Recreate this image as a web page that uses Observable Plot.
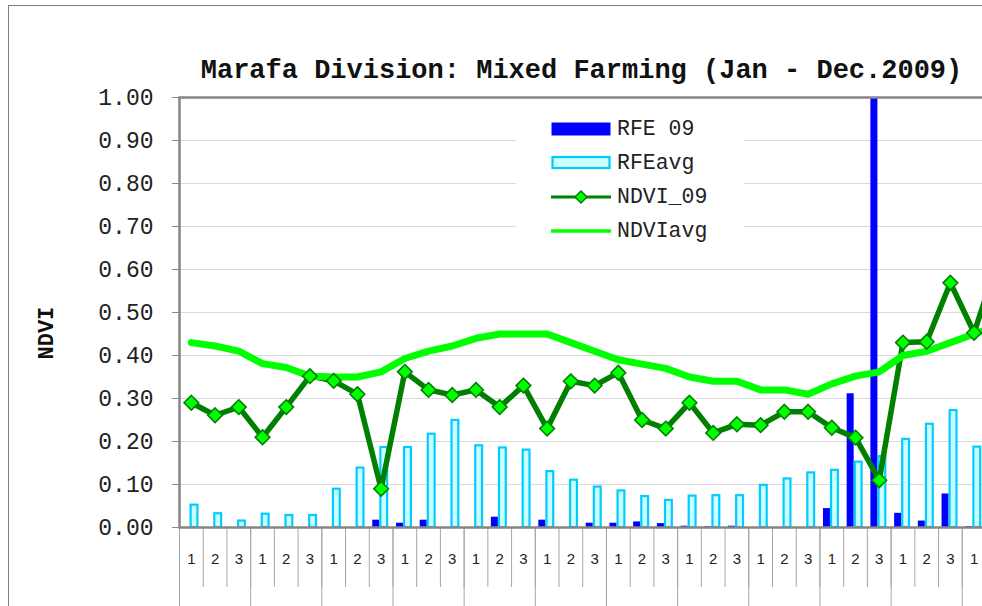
<!DOCTYPE html>
<html>
<head>
<meta charset="utf-8">
<script src="https://cdn.jsdelivr.net/npm/d3@7"></script>
<script src="https://cdn.jsdelivr.net/npm/@observablehq/plot@0.6"></script>
<style>
  html, body { margin: 0; padding: 0; background: #fff; width: 982px; height: 606px; overflow: hidden; }
  #wrap { position: relative; width: 982px; height: 606px; overflow: hidden; }
  #outer { position: absolute; left: 8px; top: 5px; width: 1200px; height: 800px; border: 1.5px solid #808080; }
  #chart { position: absolute; left: 0; top: 0; }
  #title { position: absolute; left: 0; width: 1163px; top: 58px; text-align: center;
           font: bold 27px "Liberation Mono", "DejaVu Sans Mono", monospace; line-height: 27px; color: #111; white-space: nowrap; }
  #legend { position: absolute; left: 516px; top: 106px; width: 228px; height: 150px; background: #fff; }
  .item { position: absolute; left: 35px; height: 24px; display: flex; align-items: center;
          font: 21.5px "Liberation Mono", "DejaVu Sans Mono", monospace; color: #222; white-space: nowrap; }
  .item svg { margin-right: 6px; }
</style>
</head>
<body>
<div id="wrap">
  <div id="outer"></div>
  <div id="chart"></div>
  <div id="title"></div>
  <div id="legend"></div>
</div>
<script>
// ---- data (36 dekads, Jan - Dec 2009; the right edge of the chart is cropped) ----
const dekadLabels = ["1", "2", "3"];
const visibleDekads = 34;
const titleText = "Marafa Division: Mixed Farming (Jan - Dec.2009)";
const yTicks = [0, 0.1, 0.2, 0.3, 0.4, 0.5, 0.6, 0.7, 0.8, 0.9, 1.0];
const seriesNames = ["RFE 09", "RFEavg", "NDVI_09", "NDVIavg"];

const rfe09 = [0, 0, 0, 0, 0, 0, 0, 0, 0.017, 0.01, 0.017, 0, 0, 0.024, 0, 0.017, 0, 0.01,
               0.01, 0.013, 0.009, 0.003, 0.002, 0.003, 0, 0, 0, 0.044, 0.311, 1.25, 0.033, 0.015,
               0.078, 0.002, 0, 0];
const rfeAvg = [0.052, 0.032, 0.015, 0.031, 0.028, 0.028, 0.089, 0.138, 0.186, 0.186, 0.217, 0.249,
                0.19, 0.185, 0.18, 0.13, 0.11, 0.094, 0.085, 0.072, 0.063, 0.073, 0.074, 0.074,
                0.098, 0.113, 0.127, 0.133, 0.152, 0.165, 0.205, 0.24, 0.272, 0.187, 0.15, 0.08];
const ndvi09 = [0.29, 0.261, 0.28, 0.21, 0.28, 0.352, 0.341, 0.31, 0.09, 0.362, 0.32, 0.308,
                0.32, 0.28, 0.33, 0.23, 0.34, 0.33, 0.36, 0.25, 0.23, 0.29, 0.22, 0.24,
                0.238, 0.269, 0.269, 0.232, 0.209, 0.11, 0.43, 0.432, 0.569, 0.453, 0.62, 0.55];
const ndviAvg = [0.43, 0.422, 0.41, 0.381, 0.372, 0.352, 0.35, 0.35, 0.362, 0.393, 0.41, 0.422,
                 0.44, 0.45, 0.45, 0.45, 0.43, 0.41, 0.39, 0.38, 0.37, 0.35, 0.34, 0.34,
                 0.32, 0.32, 0.31, 0.334, 0.352, 0.362, 0.40, 0.41, 0.43, 0.45, 0.47, 0.47];

const n = ndvi09.length;
const rows = d3.range(n).map(i => ({
  i, x1: i, x2: i + 1, xc: i + 0.5,
  rfe09: rfe09[i], rfeAvg: rfeAvg[i], ndvi09: ndvi09[i], ndviAvg: ndviAvg[i]
}));

const C = { blue: "#0000ff", cyanStroke: "#00ccff", cyanFill: "#ccffff", dark: "#008000", bright: "#00ff00" };
const mono = "Liberation Mono, DejaVu Sans Mono, monospace";
const sans = "Liberation Sans, Arial, sans-serif";

const W = 1060, H = 606, ML = 179, MT = 97, MB = 79;
const MR = W - (ML + n * 23.72);

const chart = Plot.plot({
  width: W, height: H,
  marginLeft: ML, marginRight: MR, marginTop: MT, marginBottom: MB,
  style: "max-width:none; overflow:visible; background:transparent;",
  x: { type: "linear", domain: [0, n], axis: null },
  y: { domain: [0, 1], axis: null },
  marks: [
    Plot.gridY(yTicks, { stroke: "#d9d9d9", strokeOpacity: 1, strokeWidth: 1 }),
    Plot.rectY(rows, { x1: "x1", x2: "x2", y: "rfe09", fill: C.blue, insetLeft: 3.5, insetRight: 13.2, clip: true }),
    Plot.rectY(rows, { x1: "x1", x2: "x2", y: "rfeAvg", fill: C.cyanFill, stroke: C.cyanStroke, strokeWidth: 2.2,
                       insetLeft: 11.6, insetRight: 5.3, clip: true }),
    Plot.line(rows, { x: "xc", y: "ndvi09", stroke: C.dark, strokeWidth: 5.5 }),
    Plot.line(rows, { x: "xc", y: "ndviAvg", stroke: C.bright, strokeWidth: 7 }),
    Plot.dot(rows, { x: "xc", y: "ndvi09", symbol: "diamond2", r: 6.6, fill: C.bright, stroke: C.dark, strokeWidth: 1.6 }),
    // dekad separators
    Plot.axisX({ ticks: d3.range(0, n + 1), tickSize: 60, tickFormat: () => "", stroke: "#a6a6a6", strokeWidth: 1 }),
    // month separators
    Plot.axisX({ ticks: d3.range(0, n + 1, 3), tickSize: 90, tickFormat: () => "", stroke: "#a6a6a6", strokeWidth: 1 }),
    // dekad labels (only those inside the visible crop)
    Plot.axisX({ ticks: d3.range(0.5, visibleDekads, 1), tickSize: 0, tickPadding: 26,
                 tickFormat: d => dekadLabels[Math.floor(d) % 3], fontSize: 15, fontFamily: sans, fill: "#222" }),
    Plot.axisY({ ticks: yTicks, tickSize: 7, tickPadding: 19, tickFormat: d3.format(".2f"),
                 fontSize: 23, fontFamily: mono, fill: "#222", stroke: "#888", label: null }),
    Plot.text(["NDVI"], { frameAnchor: "left", dx: -134, dy: 47, rotate: -90, fontSize: 22, fontWeight: "bold",
                          fontFamily: mono, fill: "#111" }),
    Plot.frame({ stroke: "#868686", strokeWidth: 2.5 })
  ]
});
document.getElementById("chart").appendChild(chart);

document.getElementById("title").textContent = titleText;

// legend
const legend = document.getElementById("legend");
const swatches = [
  `<svg width="60" height="16"><rect x="0.5" y="1.5" width="59" height="13" fill="${C.blue}"/></svg>`,
  `<svg width="60" height="16"><rect x="1.5" y="2" width="57" height="11" fill="${C.cyanFill}" stroke="${C.cyanStroke}" stroke-width="2.2"/></svg>`,
  `<svg width="60" height="16"><line x1="0" x2="60" y1="8" y2="8" stroke="${C.dark}" stroke-width="3.2"/><path d="M30,2 L36,8 L30,14 L24,8 Z" fill="${C.bright}" stroke="${C.dark}" stroke-width="1.5"/></svg>`,
  `<svg width="60" height="16"><line x1="0" x2="60" y1="8" y2="8" stroke="${C.bright}" stroke-width="3.5"/></svg>`
];
const centers = [129, 163, 197, 231];
seriesNames.forEach((name, k) => {
  const div = document.createElement("div");
  div.className = "item";
  div.style.top = (centers[k] - 106 - 12) + "px";
  div.innerHTML = swatches[k] + `<span>${name}</span>`;
  legend.appendChild(div);
});
</script>
</body>
</html>
